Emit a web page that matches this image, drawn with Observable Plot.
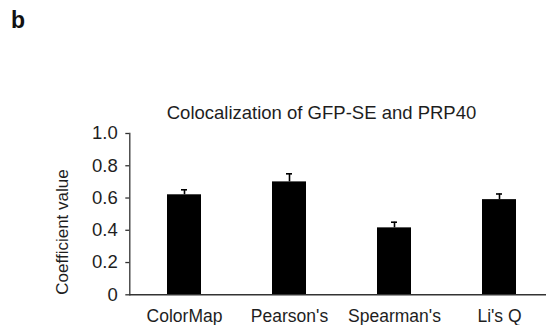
<!DOCTYPE html>
<html>
<head>
<meta charset="utf-8">
<script src="https://cdn.jsdelivr.net/npm/d3@7"></script>
<script src="https://cdn.jsdelivr.net/npm/@observablehq/plot@0.6"></script>
<style>
  html, body { margin: 0; padding: 0; background: #fff; }
  #wrap { position: relative; width: 546px; height: 325px; overflow: hidden;
          font-family: "Liberation Sans", Arial, sans-serif; color: #1e1e1e; }
  #panel { position: absolute; left: 11px; top: 7px; font-size: 23px; font-weight: bold; color: #111; }
  #title { position: absolute; left: 0; width: 643px; top: 102px; text-align: center; font-size: 18.5px; white-space: nowrap; }
  #ylabel { position: absolute; left: 63px; top: 232px; transform: translate(-50%, -50%) rotate(-90deg);
            font-size: 17px; white-space: nowrap; }
  #chart { position: absolute; left: 0; top: 120px; }
</style>
</head>
<body>
<div id="wrap">
  <div id="panel">b</div>
  <div id="title">Colocalization of GFP-SE and PRP40</div>
  <div id="ylabel">Coefficient value</div>
  <div id="chart"></div>
</div>
<script>
// Colocalization coefficients (mean and error) per method
const methods = ["ColorMap", "Pearson's", "Spearman's", "Li's Q"];
const means = [0.62, 0.70, 0.415, 0.59];
const errors = [0.031, 0.05, 0.035, 0.035];
const yTicks = [0, 0.2, 0.4, 0.6, 0.8, 1.0];

const rows = methods.map((m, i) => ({method: m, mean: means[i], err: errors[i], top: means[i] + errors[i]}));

const W = 546, H = 205;
const left = 129.3;

const plot = Plot.plot({
  width: W,
  height: H,
  marginLeft: left,
  marginRight: 0,
  marginTop: 13,
  marginBottom: 30.7,
  style: {fontFamily: "Liberation Sans, Arial, sans-serif", fontSize: "18px", color: "#1e1e1e", background: "transparent"},
  x: {domain: methods, range: [left, left + 424], paddingInner: 0.68, paddingOuter: 0.34, label: null},
  y: {domain: [0, 1], label: null},
  marks: [
    // error bars (upper half) with small caps
    Plot.ruleX(rows, {x: "method", y1: "mean", y2: "top", stroke: "#000", strokeWidth: 1.6}),
    Plot.tickY(rows, {x: "method", y: "top", stroke: "#000", strokeWidth: 1.6, insetLeft: 14, insetRight: 14}),
    Plot.barY(rows, {x: "method", y: "mean", fill: "#000"}),
    Plot.axisY({ticks: yTicks, tickSize: 4, tickPadding: 8, stroke: "#333", strokeWidth: 1.3,
                tickFormat: d => d === 0 ? "0" : d.toFixed(1), fontSize: 18.5, label: null}),
    Plot.axisX({tickSize: 0, tickPadding: 15, fontSize: 17.5, label: null}),
    Plot.frame({anchor: "left", stroke: "#333", strokeWidth: 1.3}),
    Plot.ruleY([0], {stroke: "#333", strokeWidth: 1.5})
  ]
});
document.getElementById("chart").appendChild(plot);
</script>
</body>
</html>
